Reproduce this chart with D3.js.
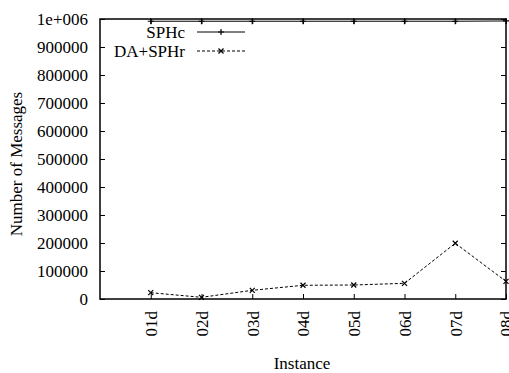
<!DOCTYPE html>
<html><head><meta charset="utf-8">
<script src="https://cdn.jsdelivr.net/npm/d3@7"></script>
<style>body{margin:0;background:#fff}svg{display:block}text{font-family:"Liberation Serif","Times New Roman",serif;fill:#000}</style>
</head><body><svg id="c" width="509" height="373"></svg>
<script>
const categories = ["01d","02d","03d","04d","05d","06d","07d","08d"];
const sphc = [992000,992000,992000,992000,992000,992000,992000,993000];
const dasphr = [22500,6000,31000,49000,50000,56000,199000,63000];
const yTicks = [0,100000,200000,300000,400000,500000,600000,700000,800000,900000,1000000];
const yTickLabels = ["0","100000","200000","300000","400000","500000","600000","700000","800000","900000","1e+006"];

const svg = d3.select("#c");
const L=100,R=506,T=19,B=299;
const x = d3.scaleLinear().domain([0,categories.length]).range([L,R]);
const y = d3.scaleLinear().domain([0,1000000]).range([B,T]);
const fs = 17;

const ya = d3.axisLeft(y).tickValues(yTicks).tickFormat((d,i)=>yTickLabels[i]).tickSizeInner(-5).tickSizeOuter(0).tickPadding(12);
const gy = svg.append("g").attr("transform",`translate(${L},0)`).call(ya);
gy.select(".domain").remove();
gy.selectAll("text").style("font-size",fs+"px");
const yr = d3.axisRight(y).tickValues(yTicks).tickFormat("").tickSizeInner(-5).tickSizeOuter(0);
const gyr = svg.append("g").attr("transform",`translate(${R},0)`).call(yr);
gyr.select(".domain").remove();
const xa = d3.axisBottom(x).tickValues(d3.range(1,categories.length+1)).tickFormat(d=>categories[d-1]).tickSizeInner(-5).tickSizeOuter(0);
const gx = svg.append("g").attr("transform",`translate(0,${B})`).call(xa);
gx.select(".domain").remove();
gx.selectAll("text").style("font-size",fs+"px").attr("text-anchor","end")
  .attr("transform","rotate(-90)").attr("x",-12).attr("y",0).attr("dy","0.35em");
const xt = d3.axisTop(x).tickValues(d3.range(1,categories.length+1)).tickFormat("").tickSizeInner(-5).tickSizeOuter(0);
const gxt = svg.append("g").attr("transform",`translate(0,${T})`).call(xt);
gxt.select(".domain").remove();

svg.append("rect").attr("x",L).attr("y",T).attr("width",R-L).attr("height",B-T)
  .attr("fill","none").attr("stroke","#000").attr("stroke-width",1.5);

const line = d3.line().x((d,i)=>x(i+1)).y(d=>y(d));
svg.append("path").datum(sphc).attr("d",line).attr("fill","none").attr("stroke","#000").attr("stroke-width",1);
svg.append("path").datum(dasphr).attr("d",line).attr("fill","none").attr("stroke","#000").attr("stroke-width",1).attr("stroke-dasharray","3,2");

function plus(g,cx,cy,s){g.append("path").attr("d",`M${cx-s},${cy}H${cx+s}M${cx},${cy-s}V${cy+s}`).attr("stroke","#000").attr("stroke-width",1.2);}
function cross(g,cx,cy,s){g.append("path").attr("d",`M${cx-s},${cy-s}L${cx+s},${cy+s}M${cx-s},${cy+s}L${cx+s},${cy-s}`).attr("stroke","#000").attr("stroke-width",1.2);}
const gm = svg.append("g");
sphc.forEach((d,i)=>plus(gm,x(i+1),y(d),3));
dasphr.forEach((d,i)=>cross(gm,x(i+1),y(d),2.5));

const leg = svg.append("g");
leg.append("text").attr("x",185).attr("y",32).attr("dy","0.35em").attr("text-anchor","end").style("font-size",fs+"px").text("SPHc");
leg.append("line").attr("x1",197).attr("x2",245).attr("y1",32).attr("y2",32).attr("stroke","#000");
plus(leg,221,32,3);
leg.append("text").attr("x",185).attr("y",51).attr("dy","0.35em").attr("text-anchor","end").style("font-size",fs+"px").text("DA+SPHr");
leg.append("line").attr("x1",197).attr("x2",245).attr("y1",51).attr("y2",51).attr("stroke","#000").attr("stroke-dasharray","3,2");
cross(leg,221,51,2.5);

svg.append("text").attr("transform","translate(22,164) rotate(-90)").attr("text-anchor","middle").style("font-size",fs+"px").text("Number of Messages");
svg.append("text").attr("x",302).attr("y",369).attr("text-anchor","middle").style("font-size",fs+"px").text("Instance");
</script></body></html>
